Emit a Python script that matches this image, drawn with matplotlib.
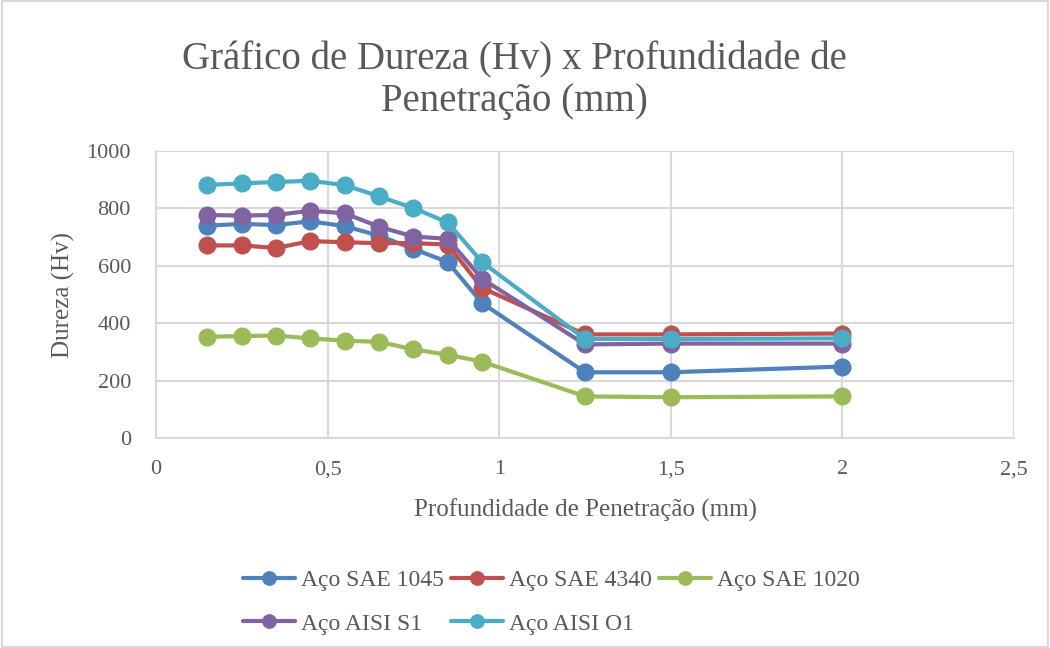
import matplotlib
matplotlib.use('Agg')
import matplotlib.pyplot as plt
from matplotlib.ticker import FuncFormatter, MultipleLocator
from matplotlib.patches import Rectangle

# --- data ---
depth = [0.15, 0.25, 0.35, 0.45, 0.55, 0.65, 0.75, 0.85, 0.95, 1.25, 1.5, 2.0]

sae_1045 = [740, 746, 742, 755, 738, 705, 659, 613, 470, 229, 229, 249]
sae_4340 = [671, 671, 662, 686, 682, 679, 679, 674, 523, 361, 361, 364]
sae_1020 = [353, 355, 357, 347, 339, 335, 309, 290, 266, 145, 142, 145]
aisi_s1 = [777, 775, 777, 792, 783, 736, 702, 694, 555, 326, 329, 329]
aisi_o1 = [882, 887, 892, 896, 881, 842, 801, 751, 613, 345, 345, 347]

series_names = ['Aço SAE 1045', 'Aço SAE 4340', 'Aço SAE 1020', 'Aço AISI S1', 'Aço AISI O1']
series_values = [sae_1045, sae_4340, sae_1020, aisi_s1, aisi_o1]
series_colors = ['#4F81BD', '#C0504D', '#9BBB59', '#8064A2', '#4BACC6']

TEXT_COLOR = '#595959'
GRID_COLOR = '#d9d9d9'
plt.rcParams['font.family'] = ['Liberation Serif', 'DejaVu Serif']

fig = plt.figure(figsize=(10.5, 6.48), dpi=100)
ax = fig.add_axes([156 / 1050, 1 - 438 / 648, (1014 - 156) / 1050, (438 - 151) / 648])

lines = []
for name, vals, color in zip(series_names, series_values, series_colors):
    ln, = ax.plot(depth, vals, color=color, linewidth=3, marker='o', markersize=12,
                  label=name, solid_capstyle='round')
    lines.append(ln)

ax.set_xlim(0, 2.5)
ax.set_ylim(0, 1000)
ax.xaxis.set_major_locator(MultipleLocator(0.5))
ax.yaxis.set_major_locator(MultipleLocator(200))
ax.xaxis.set_major_formatter(FuncFormatter(lambda v, p: f'{v:g}'.replace('.', ',')))
ax.grid(True, color=GRID_COLOR, linewidth=1.5)
ax.set_axisbelow(True)
for side in ['top', 'right']:
    ax.spines[side].set_visible(False)
for side in ['left', 'bottom']:
    ax.spines[side].set_color(GRID_COLOR)
    ax.spines[side].set_linewidth(1.5)
ax.tick_params(length=0, labelsize=16, colors=TEXT_COLOR)
ax.tick_params(axis='x', pad=16)
ax.tick_params(axis='y', pad=18)

ax.set_xlabel('Profundidade de Penetração (mm)', fontsize=18, color=TEXT_COLOR, labelpad=14)
ax.set_ylabel('Dureza (Hv)', fontsize=18, color=TEXT_COLOR, labelpad=8)

fig.text(0.49, 1 - 120 / 648, 'Gráfico de Dureza (Hv) x Profundidade de\nPenetração (mm)',
         ha='center', va='bottom', fontsize=28, color=TEXT_COLOR, linespacing=1.15)

# matplotlib fills legend columns first; reorder so rows read like the reference
order = [0, 3, 1, 4, 2]
fig.legend([lines[i] for i in order], [series_names[i] for i in order],
           loc='upper left', bbox_to_anchor=(222 / 1050, 1 - 548 / 648), ncol=3,
           frameon=False, fontsize=17, labelcolor=TEXT_COLOR, handlelength=2.2,
           markerscale=0.8, handletextpad=0.25, columnspacing=0.3, labelspacing=0.95)

fig.patches.append(Rectangle((0.002, 0.002), 0.996, 0.996, transform=fig.transFigure,
                             fill=False, edgecolor=GRID_COLOR, linewidth=1.5))

fig.savefig('out.png', dpi=100)
